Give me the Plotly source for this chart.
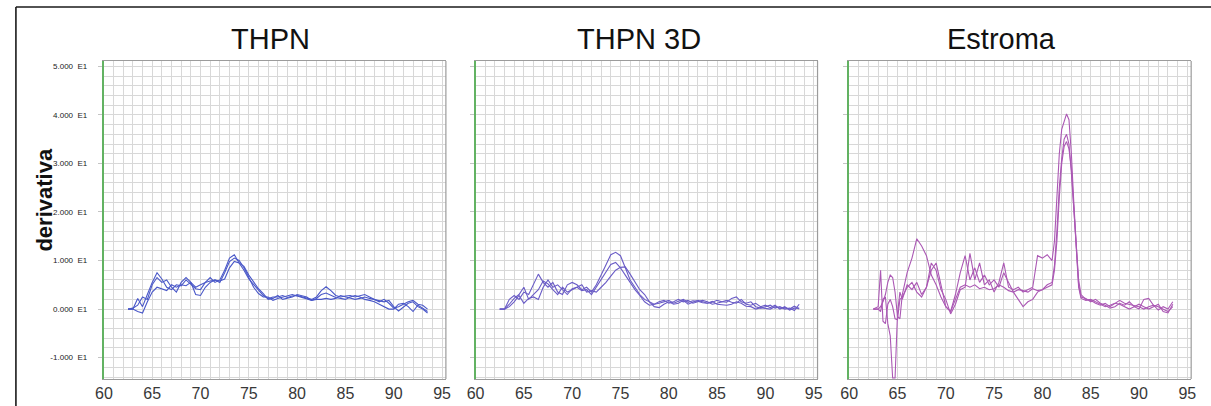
import plotly.graph_objects as go

# ---------------- data ----------------
x_ticks = [60, 65, 70, 75, 80, 85, 90, 95]
y_ticks = [-1, 0, 1, 2, 3, 4, 5]
y_ticktext = ["-1.000  E1", "0.000  E1", "1.000  E1", "2.000  E1",
              "3.000  E1", "4.000  E1", "5.000  E1"]
titles = ["THPN", "THPN 3D", "Estroma"]
y_title = "derivativa"

x_thpn = [62.5, 63.0, 63.5, 64.0, 64.5, 65.0, 65.5, 66.0, 66.5, 67.0,
          67.5, 68.0, 68.5, 69.0, 69.5, 70.0, 70.5, 71.0, 71.5, 72.0,
          72.5, 73.0, 73.5, 74.0, 74.5, 75.0, 75.5, 76.0, 76.5, 77.0,
          77.5, 78.0, 78.5, 79.0, 79.5, 80.0, 80.5, 81.0, 81.5, 82.0,
          82.5, 83.0, 83.5, 84.0, 84.5, 85.0, 85.5, 86.0, 86.5, 87.0,
          87.5, 88.0, 88.5, 89.0, 89.5, 90.0, 90.5, 91.0, 91.5, 92.0,
          92.5, 93.0, 93.5]

thpn_a = [0, 0, 0.22, 0.05, 0.3, 0.55, 0.75, 0.62, 0.45, 0.4,
          0.5, 0.48, 0.6, 0.5, 0.42, 0.4, 0.55, 0.65, 0.55, 0.6,
          0.8, 1.05, 1.12, 0.95, 0.8, 0.62, 0.5, 0.38, 0.28, 0.22,
          0.25, 0.25, 0.28, 0.24, 0.27, 0.28, 0.25, 0.22, 0.2, 0.25,
          0.38, 0.46, 0.38, 0.28, 0.25, 0.27, 0.28, 0.25, 0.28, 0.3,
          0.25, 0.2, 0.15, 0.2, 0.12, 0.02, 0.05, 0.1, 0.15, 0.18,
          0.1, 0.08, 0.0]
thpn_b = [0, 0.02, 0.08, 0.25, 0.2, 0.5, 0.65, 0.55, 0.6, 0.45,
          0.35, 0.55, 0.65, 0.55, 0.3, 0.28, 0.45, 0.55, 0.6, 0.55,
          0.75, 0.98, 1.05, 1.0, 0.85, 0.65, 0.45, 0.32, 0.25, 0.25,
          0.18, 0.22, 0.25, 0.28, 0.3, 0.27, 0.24, 0.2, 0.18, 0.22,
          0.3, 0.33, 0.28, 0.24, 0.22, 0.2, 0.25, 0.28, 0.25, 0.2,
          0.18, 0.15, 0.1, 0.05, 0.0, 0.0, 0.1, 0.12, 0.05, -0.05,
          0.08, 0.02, -0.05]
thpn_c = [0, 0, -0.05, -0.08, 0.15, 0.35, 0.45, 0.42, 0.38, 0.5,
          0.45, 0.5, 0.48, 0.55, 0.45, 0.5, 0.55, 0.58, 0.6, 0.58,
          0.62, 0.85, 0.98, 0.95, 0.88, 0.7, 0.55, 0.42, 0.32, 0.2,
          0.22, 0.28, 0.2, 0.22, 0.25, 0.3, 0.28, 0.25, 0.18, 0.2,
          0.2, 0.22, 0.2, 0.22, 0.28, 0.25, 0.22, 0.2, 0.22, 0.25,
          0.22, 0.2, 0.18, 0.15, 0.18, 0.05, -0.04, 0.05, 0.12, 0.15,
          0.05, 0.0, -0.08]

thpn3d_a = [0, 0, 0.2, 0.28, 0.2, 0.35, 0.3, 0.5, 0.72, 0.55,
            0.45, 0.55, 0.35, 0.3, 0.5, 0.55, 0.5, 0.4, 0.45, 0.35,
            0.5, 0.7, 0.9, 1.12, 1.17, 1.1, 0.85, 0.6, 0.45, 0.3,
            0.2, 0.15, 0.1, 0.12, 0.15, 0.18, 0.12, 0.16, 0.2, 0.14,
            0.17, 0.16, 0.13, 0.12, 0.14, 0.18, 0.15, 0.14, 0.22, 0.25,
            0.15, 0.12, 0.15, 0.05, 0.02, 0.05, 0.08, 0.02, 0.05, 0.0,
            0.02, -0.03, 0.1]
thpn3d_b = [0, 0, 0.1, 0.22, 0.3, 0.45, 0.2, 0.3, 0.4, 0.58,
            0.52, 0.4, 0.3, 0.45, 0.35, 0.4, 0.45, 0.38, 0.4, 0.3,
            0.45, 0.6, 0.75, 0.92, 0.96, 0.85, 0.7, 0.55, 0.4, 0.28,
            0.15, 0.08, 0.1, 0.15, 0.18, 0.12, 0.15, 0.2, 0.15, 0.18,
            0.12, 0.15, 0.18, 0.15, 0.1, 0.12, 0.15, 0.18, 0.14, 0.12,
            0.2, 0.1, 0.08, 0.12, 0.05, 0.08, 0.03, 0.08, 0.0, 0.05,
            -0.02, 0.02, 0.02]
thpn3d_c = [0, 0, 0.05, 0.15, 0.28, 0.12, 0.22, 0.25, 0.2, 0.45,
            0.6, 0.45, 0.5, 0.4, 0.3, 0.42, 0.45, 0.5, 0.35, 0.38,
            0.35, 0.45, 0.55, 0.68, 0.8, 0.86, 0.87, 0.72, 0.55, 0.4,
            0.3, 0.15, 0.05, 0.03, 0.1, 0.15, 0.1, 0.12, 0.18, 0.1,
            0.14, 0.18, 0.15, 0.12, 0.16, 0.1, 0.09, 0.08, 0.1, 0.15,
            0.12, 0.06, 0.05, 0.0, 0.03, 0.02, 0.0, 0.05, 0.02, 0.03,
            0.0, 0.06, 0.0]

x_est = [62.5, 63.0, 63.25, 63.5, 63.75, 64.0, 64.25, 64.5, 64.75, 65.0,
         65.25, 65.5, 66.0, 66.5, 67.0, 67.5, 68.0, 68.5, 69.0, 69.5,
         70.0, 70.5, 71.0, 71.5, 72.0, 72.5, 73.0, 73.5, 74.0, 74.5,
         75.0, 75.5, 76.0, 76.5, 77.0, 77.5, 78.0, 78.5, 79.0, 79.5,
         80.0, 80.5, 81.0, 81.25, 81.5, 81.75, 82.0, 82.25, 82.5, 82.75,
         83.0, 83.25, 83.5, 83.75, 84.0, 84.5, 85.0, 85.5, 86.0, 86.5,
         87.0, 87.5, 88.0, 88.5, 89.0, 89.5, 90.0, 90.5, 91.0, 91.5,
         92.0, 92.5, 93.0, 93.5]

est_a = [0, 0, 0.05, 0.15, 0.3, 0.55, 0.7, 0.65, 0.35, -0.15,
         -0.2, 0.3, 0.75, 1.05, 1.45, 1.3, 1.1, 0.7, 0.5, 0.25,
         0.05, -0.05, 0.2, 0.45, 0.5, 0.45, 0.5, 0.42, 0.45, 0.4,
         0.42, 0.5, 0.45, 0.38, 0.35, 0.4, 0.38, 0.35, 0.42, 0.38,
         0.4, 0.5, 0.55, 0.9, 1.6, 2.5, 3.1, 3.5, 3.6, 3.4,
         2.8, 2.0, 1.3, 0.6, 0.3, 0.2, 0.18, 0.12, 0.08, 0.12,
         0.05, 0.12, 0.18, 0.12, 0.1, 0.08, 0.05, 0.0, 0.05, 0.08,
         -0.02, 0.05, 0.0, 0.15]
est_b = [0, 0.05, 0.8, -0.25, -0.3, 0.1, 0.2, 0.05, -0.2, -0.22,
         0.2, 0.25, 0.45, 0.55, 0.35, 0.25, 0.45, 0.95, 0.8, 0.4,
         0.2, -0.1, 0.1, 0.4, 0.45, 1.15, 0.6, 0.95, 0.5, 0.6,
         0.35, 0.55, 0.95, 0.45, 0.4, 0.45, 0.35, 0.4, 0.45, 1.1,
         1.05, 1.12, 1.0, 1.4, 2.3, 3.2, 3.7, 3.85, 4.02, 3.9,
         3.2, 2.2, 1.4, 0.5, 0.25, 0.22, 0.15, 0.2, 0.12, 0.08,
         0.02, 0.05, 0.12, 0.08, 0.15, 0.05, 0.0, 0.2, 0.22, 0.08,
         0.05, 0.0, -0.05, 0.05]
est_c = [0, 0, -0.05, 0.2, 0.25, -0.3, -0.55, -1.42, -1.42, -0.1,
         0.35, 0.2, 0.5, 0.4, 0.55, 0.3, 0.45, 0.8, 0.95, 0.5,
         0.05, -0.05, 0.3, 0.75, 1.1, 0.6, 0.85, 0.55, 0.7, 0.5,
         0.6, 0.45, 0.75, 0.55, 0.35, 0.2, 0.05, 0.15, 0.2, 0.35,
         0.4, 0.45, 0.5, 0.8, 1.4, 2.3, 3.0, 3.35, 3.45, 3.3,
         2.9, 2.1, 1.3, 0.45, 0.22, 0.18, 0.2, 0.15, 0.1, 0.05,
         0.08, 0.12, 0.1, 0.05, 0.0, 0.05, 0.1, 0.05, 0.0, 0.05,
         0.1, -0.05, -0.08, 0.1]

for s in (thpn_a, thpn_b, thpn_c, thpn3d_a, thpn3d_b, thpn3d_c):
    assert len(s) == len(x_thpn), len(s)
for s in (est_a, est_b, est_c):
    assert len(s) == len(x_est), len(s)

# ---------------- layout constants ----------------
W, H = 1211, 406
FONT = "Liberation Sans, Arial, sans-serif"
panels_px = [(96, 442), (472, 818), (850, 1196)]
top_px, bot_px = 61, 379
y_dom = [1 - bot_px / H, 1 - top_px / H]
x_range = [60, 95.4]
y_range = [-1.44, 5.11]
grid_col = "#d8d8d8"
border_col = "#9c9c9c"
green = "#62b262"

panel_series = [
    (x_thpn, [thpn_a, thpn_b, thpn_c], "#4a58c8"),
    (x_thpn, [thpn3d_a, thpn3d_b, thpn3d_c], "#6a5cc6"),
    (x_est, [est_a, est_b, est_c], "#ab58b4"),
]

fig = go.Figure()
for i, (xs, series, col) in enumerate(panel_series):
    xa = "x" if i == 0 else f"x{i+1}"
    ya = "y" if i == 0 else f"y{i+1}"
    for ys in series:
        fig.add_trace(go.Scatter(x=xs, y=ys, mode="lines",
                                 line=dict(color=col, width=1.1),
                                 xaxis=xa, yaxis=ya, showlegend=False,
                                 hoverinfo="skip"))

layout = dict(width=W, height=H, margin=dict(l=0, r=0, t=0, b=0),
              paper_bgcolor="white", plot_bgcolor="white",
              showlegend=False, font=dict(family=FONT))

for i, (l, r) in enumerate(panels_px):
    sfx = "" if i == 0 else str(i + 1)
    layout["xaxis" + sfx] = dict(
        domain=[l / W, r / W], range=x_range, anchor="y" + sfx,
        tickmode="array", tickvals=x_ticks, ticktext=[str(v) for v in x_ticks],
        tickfont=dict(size=16, color="#383838", family=FONT),
        showgrid=True, gridcolor=grid_col, gridwidth=1,
        minor=dict(dtick=1, tick0=60, showgrid=True, gridcolor=grid_col, gridwidth=1),
        showline=True, linecolor=border_col, linewidth=1.2, mirror=True,
        ticks="", zeroline=False, fixedrange=True)
    layout["yaxis" + sfx] = dict(
        domain=y_dom, range=y_range, anchor="x" + sfx,
        tickmode="array", tickvals=y_ticks, ticktext=y_ticktext,
        showticklabels=(i == 0), ticklabelstandoff=9,
        tickfont=dict(size=8, color="#222222", family=FONT),
        showgrid=True, gridcolor=grid_col, gridwidth=1,
        minor=dict(dtick=0.2, tick0=0, showgrid=True, gridcolor=grid_col, gridwidth=1),
        showline=True, linecolor=green, linewidth=2,
        ticks="outside", ticklen=4, tickcolor="#c4c4c4",
        zeroline=False, fixedrange=True)

fig.update_layout(**layout)

# right borders of panels
shapes = []
for i in range(3):
    sfx = "" if i == 0 else str(i + 1)
    shapes.append(dict(type="line", xref=f"x{sfx} domain", yref=f"y{sfx} domain",
                       x0=1, x1=1, y0=0, y1=1,
                       line=dict(color=border_col, width=1.2), layer="above"))
# outer frame (top and left)
shapes.append(dict(type="line", xref="paper", yref="paper",
                   x0=7 / W, x1=1.01, y0=1 - 7 / H, y1=1 - 7 / H,
                   line=dict(color="#1a1a1a", width=1.6)))
shapes.append(dict(type="line", xref="paper", yref="paper",
                   x0=7 / W, x1=7 / W, y0=-0.01, y1=1 - 7 / H,
                   line=dict(color="#1a1a1a", width=1.6)))
fig.update_layout(shapes=shapes)

annotations = []
centers = [265, 637, 1004]
for t, cx in zip(titles, centers):
    annotations.append(dict(text=t, x=cx / W, y=1 - 39 / H, xref="paper", yref="paper",
                            showarrow=False, xanchor="center", yanchor="middle",
                            font=dict(size=29, color="#111111", family=FONT)))
annotations.append(dict(text="<b>" + y_title + "</b>", x=35 / W, y=1 - 200 / H,
                        xref="paper", yref="paper", showarrow=False, textangle=-90,
                        xanchor="center", yanchor="middle",
                        font=dict(size=22, color="#111111", family=FONT)))
fig.update_layout(annotations=annotations)

fig.write_html("out.html")
